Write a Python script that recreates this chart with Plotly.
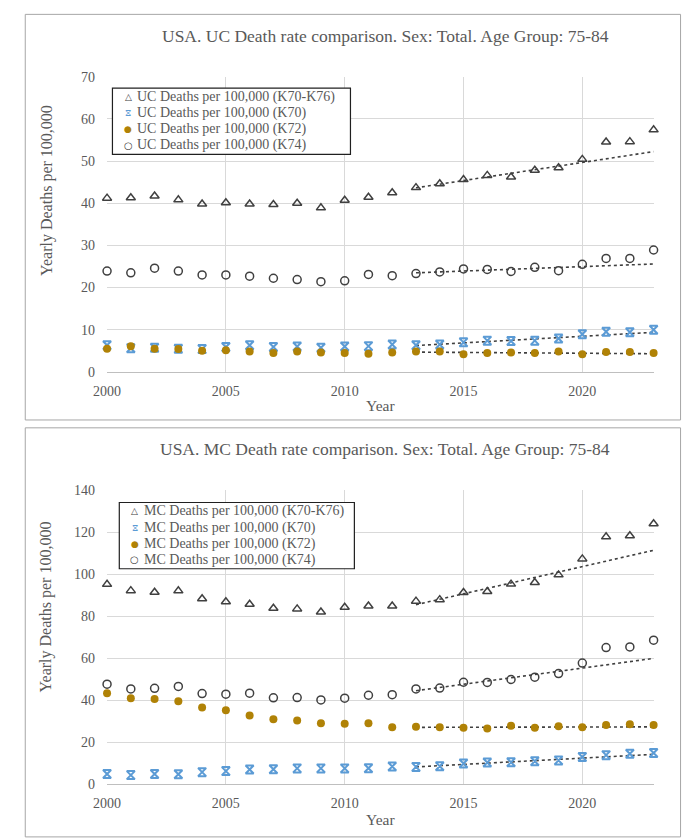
import numpy as np
import plotly.graph_objects as go

years = list(range(2000, 2024))

uc_k70_k76 = [41.2, 41.3, 41.7, 40.8, 39.8, 40.1, 39.8, 39.7, 40.0, 38.9, 40.7, 41.4,
              42.5, 43.7, 44.6, 45.6, 46.6, 46.2, 47.8, 48.4, 50.4, 54.5, 54.6, 57.4]
uc_k70 = [6.3, 5.6, 5.7, 5.5, 5.4, 5.9, 6.3, 5.9, 6.0, 5.7, 6.0, 6.1,
          6.5, 6.3, 6.5, 7.0, 7.4, 7.3, 7.4, 7.9, 8.9, 9.5, 9.4, 10.0]
uc_k72 = [5.5, 6.1, 5.5, 5.4, 5.0, 5.1, 4.8, 4.5, 4.8, 4.6, 4.5, 4.3,
          4.6, 4.8, 4.8, 4.2, 4.5, 4.6, 4.5, 4.8, 4.2, 4.7, 4.7, 4.5]
uc_k74 = [23.9, 23.5, 24.6, 23.9, 23.0, 23.0, 22.7, 22.2, 21.9, 21.4, 21.6, 23.1,
          22.8, 23.3, 23.7, 24.4, 24.3, 23.8, 24.8, 24.0, 25.5, 26.9, 26.9, 28.9]

mc_k70_k76 = [95.2, 92.2, 91.4, 92.1, 88.3, 86.9, 85.7, 83.8, 83.5, 82.0, 84.3, 84.9,
              84.9, 87.2, 87.9, 91.3, 91.8, 95.3, 96.1, 99.7, 107.3, 117.8, 118.3, 124.0]
mc_k70 = [4.9, 4.4, 4.9, 4.8, 5.8, 6.3, 7.1, 7.2, 7.6, 7.6, 7.6, 7.7,
          8.5, 8.3, 8.6, 9.9, 10.4, 10.5, 11.0, 11.4, 13.0, 13.9, 14.6, 14.9]
mc_k72 = [43.4, 41.0, 40.6, 39.6, 36.6, 35.3, 32.8, 31.0, 30.4, 29.1, 28.8, 29.1,
          27.2, 27.4, 27.2, 26.9, 26.6, 27.9, 26.9, 27.6, 27.2, 28.3, 28.6, 28.3]
mc_k74 = [47.7, 45.4, 45.7, 46.6, 43.2, 42.9, 43.4, 41.2, 41.3, 40.2, 41.0, 42.4,
          42.7, 45.4, 45.8, 48.6, 48.5, 49.9, 51.0, 52.7, 57.7, 65.1, 65.4, 68.6]

x_ticks = [2000, 2005, 2010, 2015, 2020]
uc_y_ticks = [0, 10, 20, 30, 40, 50, 60, 70]
mc_y_ticks = [0, 20, 40, 60, 80, 100, 120, 140]

fit_start, fit_end, trend_end = 2013, 2020, 2023

uc_title = "USA. UC Death rate comparison. Sex: Total. Age Group: 75-84"
mc_title = "USA. MC Death rate comparison. Sex: Total. Age Group: 75-84"
uc_names = ["UC Deaths per 100,000 (K70-K76)", "UC Deaths per 100,000 (K70)",
            "UC Deaths per 100,000 (K72)", "UC Deaths per 100,000 (K74)"]
mc_names = ["MC Deaths per 100,000 (K70-K76)", "MC Deaths per 100,000 (K70)",
            "MC Deaths per 100,000 (K72)", "MC Deaths per 100,000 (K74)"]
y_title = "Yearly Deaths per 100,000"
x_title = "Year"

W, H = 683, 839
FONT = "Liberation Serif"
GRAY = "#595959"
DARK = "#404040"
BLUE = "#5b9bd5"
GOLD = "#b08206"


def px(x):
    return x / W


def py(y):
    return 1 - y / H


styles = [
    dict(symbol="triangle-up-open", size=8, color=DARK, line=dict(color=DARK, width=1.5)),
    dict(symbol="hourglass-open", size=8, color=BLUE, line=dict(color=BLUE, width=2)),
    dict(symbol="circle", size=8, color=GOLD, line=dict(color=GOLD, width=0)),
    dict(symbol="circle-open", size=8, color=DARK, line=dict(color=DARK, width=1.5)),
]
legend_glyphs = [("△", DARK, 9), ("⧖", BLUE, 9), ("●", GOLD, 9), ("○", DARK, 10)]

fig = go.Figure()


def add_panel(series, names, xa, ya):
    yrs = np.array(years)
    mask = (yrs >= fit_start) & (yrs <= fit_end)
    tx = yrs[(yrs >= fit_start) & (yrs <= trend_end)]
    for vals in series:
        v = np.array(vals)
        slope, icpt = np.polyfit(yrs[mask], v[mask], 1)
        fig.add_trace(go.Scatter(x=tx, y=slope * tx + icpt, mode="lines",
                                 line=dict(color=DARK, width=1.6, dash="dot"),
                                 showlegend=False, hoverinfo="skip",
                                 xaxis=xa, yaxis=ya))
    for vals, name, st in zip(series, names, styles):
        fig.add_trace(go.Scatter(x=years, y=vals, mode="markers", name=name,
                                 marker=st, cliponaxis=False, showlegend=False,
                                 xaxis=xa, yaxis=ya))


add_panel([uc_k70_k76, uc_k70, uc_k72, uc_k74], uc_names, "x", "y")
add_panel([mc_k70_k76, mc_k70, mc_k72, mc_k74], mc_names, "x2", "y2")

plot_l, plot_r = 95, 653
top_t, top_b = 71, 371.5
bot_t, bot_b = 492, 791.5

tickfont = dict(family=FONT, size=14, color=GRAY)
xcommon = dict(range=[2000, 2023], tickvals=x_ticks, showline=True, linecolor="#bfbfbf",
               linewidth=1, zeroline=False, ticks="", tickfont=tickfont,
               gridcolor="#d9d9d9", gridwidth=1, ticklabelstandoff=6,
               domain=[px(plot_l), px(plot_r)])
ycommon = dict(showline=False, zeroline=False, ticks="", tickfont=tickfont,
               gridcolor="#d9d9d9", gridwidth=1, ticklabelstandoff=11)

fig.update_layout(
    width=W, height=H,
    margin=dict(l=0, r=0, t=0, b=0),
    paper_bgcolor="white", plot_bgcolor="white",
    font=dict(family=FONT, color=GRAY),
    xaxis=dict(anchor="y", **xcommon),
    yaxis=dict(domain=[py(top_b), py(top_t)], range=[0, 70], tickvals=uc_y_ticks,
               anchor="x", **ycommon),
    xaxis2=dict(anchor="y2", **xcommon),
    yaxis2=dict(domain=[py(bot_b), py(bot_t)], range=[0, 140], tickvals=mc_y_ticks,
                anchor="x2", **ycommon),
    showlegend=False,
)

shapes = []
ann = []
for y0, y1 in [(7.5, 420.5), (428.5, 845)]:
    shapes.append(dict(type="rect", xref="paper", yref="paper", x0=px(11.5), x1=px(680.5),
                       y0=py(y1), y1=py(y0), line=dict(color="#a6a6a6", width=1),
                       layer="below"))

for title, ty in [(uc_title, 30), (mc_title, 450)]:
    ann.append(dict(text=title, x=px(379), y=py(ty), xref="paper", yref="paper",
                    showarrow=False, xanchor="center", yanchor="middle",
                    font=dict(family=FONT, size=17.5, color=GRAY)))
for cy in [187, 611]:
    ann.append(dict(text=y_title, x=px(33), y=py(cy), xref="paper",
                    yref="paper", showarrow=False, textangle=-90, xanchor="center",
                    yanchor="middle", font=dict(family=FONT, size=16, color=GRAY)))
for ty in [406, 827]:
    ann.append(dict(text=x_title, x=px(374), y=py(ty), xref="paper", yref="paper",
                    showarrow=False, xanchor="center", yanchor="middle",
                    font=dict(family=FONT, size=15.5, color=GRAY)))

row_gap = 16.5
for names, (bx0, by0, bx1), row0 in [
        (uc_names, (100.5, 82.5, 343.5), 91.5),
        (mc_names, (107.5, 504.5, 347.5), 513.5)]:
    by1 = by0 + 2 * (row0 - by0) + 3 * row_gap
    shapes.append(dict(type="rect", xref="paper", yref="paper", x0=px(bx0), x1=px(bx1),
                       y0=py(by1), y1=py(by0), line=dict(color="#202020", width=1.2),
                       fillcolor="white", layer="above"))
    for i, (name, (g, gc, gs)) in enumerate(zip(names, legend_glyphs)):
        ry = row0 + i * row_gap
        ann.append(dict(text=g, x=px(bx0 + 16), y=py(ry), xref="paper", yref="paper",
                        showarrow=False, xanchor="center", yanchor="middle",
                        font=dict(family="DejaVu Sans", size=gs, color=gc)))
        ann.append(dict(text=name, x=px(bx0 + 23), y=py(ry), xref="paper", yref="paper",
                        showarrow=False, xanchor="left", yanchor="middle",
                        font=dict(family=FONT, size=14, color=GRAY)))

fig.update_layout(shapes=shapes, annotations=ann)

fig.write_html("out.html")
